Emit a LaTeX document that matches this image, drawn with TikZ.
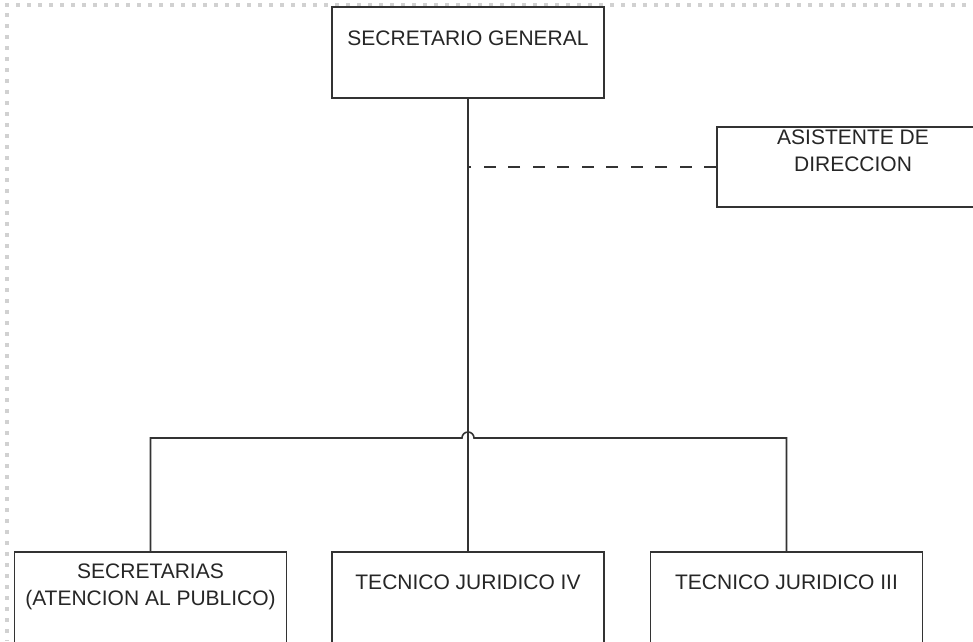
\documentclass[tikz,border=0pt]{standalone}
\usepackage{fontspec}
\setmainfont{Liberation Sans}
\usetikzlibrary{positioning}
\usetikzlibrary{calc}
\tikzset{
  every path/.append style={line width=1.6pt},
  post/.style={rectangle,draw=black!80,fill=white,inner sep=0pt,
    minimum width=272pt,minimum height=#1},
  post/.default=91pt,
  title/.style={inner sep=0pt,align=center,text=black!85,
    font=\fontsize{21}{27}\selectfont},
  link/.style={draw=black!80},
  aide/.style={draw=black!80,dash pattern=on 12pt off 12.5pt},
  pageframe/.style={draw=black!18,line width=4pt,dash pattern=on 4pt off 7pt}
}

\begin{document}
\begin{tikzpicture}[x=1pt,y=1pt]
  \useasboundingbox (0,0) rectangle (973,-641);
  % dotted page border
  \draw[pageframe] (5,-5) -- (973,-5);
  \draw[pageframe] (7,-13) -- (7,-641);

  \node (sg) [post] at (468,-52.5) {};
  \node (sgt) [title,below=24pt of sg.north] {SECRETARIO GENERAL};
  \node (asis) [post=80pt] at (853,-167) {};
  \node (asist) [title,below=3pt of asis.north] {ASISTENTE DE\\DIRECCION};

  \node (sec) [post] at (150.5,-597.5) {};
  \node (sect) [title,below=11.5pt of sec.north] {SECRETARIAS\\(ATENCION AL PUBLICO)};
  \node (tj4) [post] at (468,-597.5) {};
  \node (tj4t) [title,below=23pt of tj4.north] {TECNICO JURIDICO IV};
  \node (tj3) [post] at (786.5,-597.5) {};
  \node (tj3t) [title,below=23pt of tj3.north] {TECNICO JURIDICO III};

  \coordinate (bus) at (468,-438);
  \draw[link] (sg.south) -- (tj4.north);
  \draw[aide] (asis.west) -- (asis.west -| sg.south);
  \draw[link] (sec.north) |- ($(bus)+(-6,0)$)
    arc[start angle=180,end angle=0,radius=6pt]
    -- (tj3.north |- bus) -- (tj3.north);
\end{tikzpicture}
\end{document}
